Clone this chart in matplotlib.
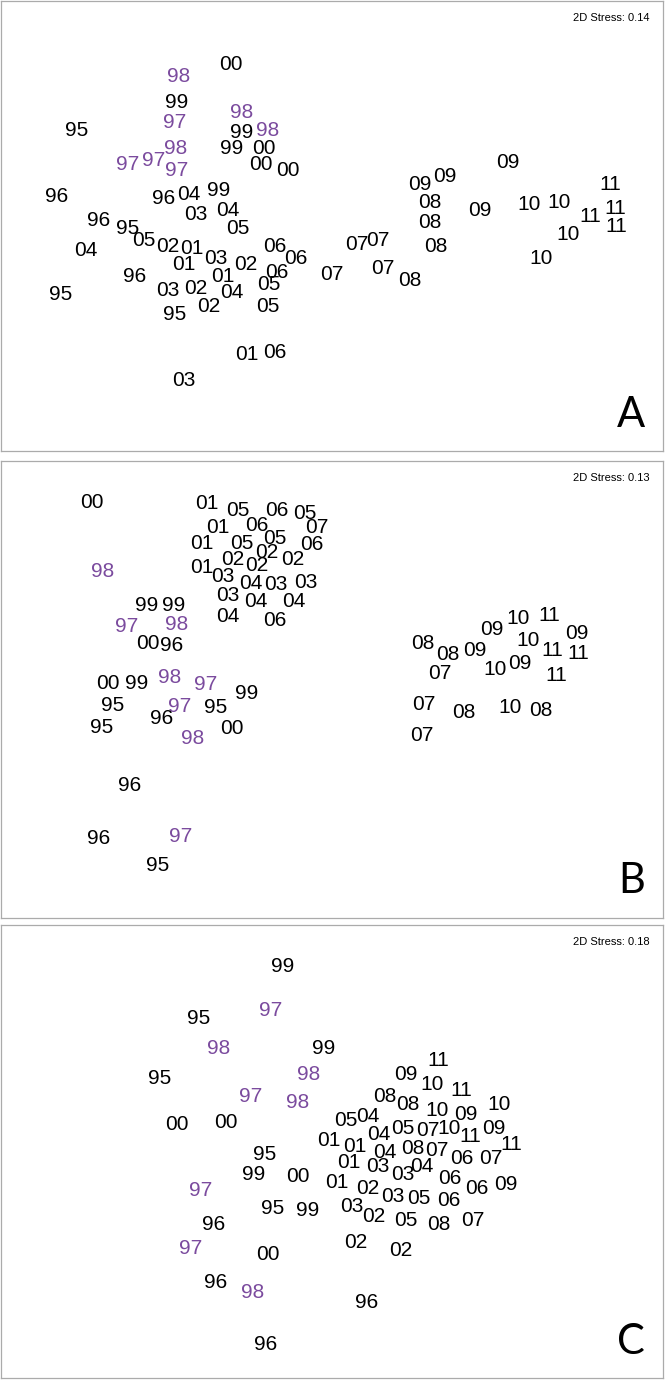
import matplotlib
matplotlib.use("Agg")
import matplotlib.pyplot as plt

# NMDS ordination of years, three panels (positions)
a_labels = ["98", "00", "99", "97", "98", "95", "99", "98", "98", "99", "00", "97", "97", "97", "00", "00",
            "96", "96", "04", "99", "03", "04", "96", "95", "05", "05", "02", "01", "04", "06", "06", "03",
            "01", "02", "96", "01", "06", "95", "03", "02", "04", "05", "02", "95", "05", "01", "06", "03",
            "09", "09", "09", "08", "09", "10", "10", "11", "11", "11", "11", "08", "10", "07", "07", "08",
            "10", "07", "07", "08"]
a_x = [179, 231, 177, 175, 242, 77, 242, 268, 176, 232, 264, 128, 154, 177, 261, 288,
       57, 164, 189, 219, 196, 228, 99, 128, 238, 144, 168, 192, 86, 275, 296, 216,
       184, 246, 135, 223, 277, 61, 168, 196, 232, 269, 209, 175, 268, 247, 275, 184,
       508, 420, 445, 430, 480, 529, 559, 610, 590, 615, 616, 430, 568, 357, 378, 436,
       541, 332, 383, 410]
a_y = [74, 63, 100, 120, 111, 129, 130, 129, 147, 147, 146, 163, 158, 168, 162, 168,
       194, 196, 192, 188, 213, 208, 219, 226, 226, 239, 244, 247, 249, 244, 257, 257,
       263, 263, 275, 275, 270, 292, 289, 286, 291, 283, 304, 312, 304, 352, 350, 379,
       161, 183, 174, 200, 209, 202, 200, 182, 215, 207, 225, 221, 232, 242, 239, 245,
       256, 272, 267, 278]

b_labels = ["00", "00", "00", "00", "01", "01", "01", "01", "05", "05", "05", "05", "06", "06", "06", "06",
            "07", "07", "07", "07", "02", "02", "02", "02", "03", "03", "03", "03", "04", "04", "04", "04",
            "98", "98", "98", "98", "99", "99", "99", "99", "97", "97", "97", "97", "96", "96", "96", "96",
            "95", "95", "95", "95", "10", "10", "10", "10", "11", "11", "11", "11", "09", "09", "09", "09",
            "08", "08", "08", "08"]
b_x = [92, 148, 108, 232, 207, 218, 202, 202, 238, 305, 242, 275, 277, 257, 312, 275,
       317, 440, 424, 422, 267, 233, 257, 293, 223, 276, 306, 228, 251, 256, 294, 228,
       103, 177, 170, 193, 147, 174, 137, 247, 127, 206, 180, 181, 172, 162, 130, 99,
       113, 216, 102, 158, 518, 528, 495, 510, 549, 552, 578, 556, 492, 577, 475, 520,
       423, 448, 464, 541]
b_y = [500, 641, 681, 726, 501, 525, 541, 565, 508, 511, 541, 536, 508, 523, 542, 618,
       525, 671, 702, 733, 550, 557, 563, 557, 574, 582, 580, 593, 581, 599, 599, 614,
       569, 622, 675, 736, 603, 603, 681, 691, 624, 682, 704, 834, 643, 716, 783, 836,
       703, 705, 725, 863, 616, 638, 667, 705, 613, 648, 651, 673, 627, 631, 648, 661,
       641, 652, 710, 708]

c_labels = ["99", "99", "99", "99", "97", "97", "97", "97", "95", "95", "95", "95", "98", "98", "98", "98",
            "00", "00", "00", "00", "96", "96", "96", "96", "01", "01", "01", "01", "05", "05", "05", "05",
            "11", "11", "11", "11", "09", "09", "09", "09", "10", "10", "10", "10", "08", "08", "08", "08",
            "04", "04", "04", "04", "07", "07", "07", "07", "06", "06", "06", "06", "03", "03", "03", "03",
            "02", "02", "02", "02"]
c_x = [283, 324, 254, 308, 271, 251, 201, 191, 199, 160, 265, 273, 219, 309, 298, 253,
       177, 226, 298, 268, 214, 216, 367, 266, 329, 337, 355, 349, 346, 403, 419, 406,
       438, 461, 470, 511, 406, 466, 494, 506, 432, 499, 437, 449, 385, 408, 413, 439,
       368, 379, 385, 422, 428, 437, 491, 473, 462, 450, 477, 449, 378, 403, 393, 352,
       368, 374, 356, 401]
c_y = [965, 1047, 1172, 1208, 1009, 1095, 1189, 1247, 1016, 1076, 1152, 1207, 1046, 1073, 1100, 1291,
       1123, 1121, 1174, 1253, 1223, 1280, 1301, 1343, 1138, 1180, 1145, 1161, 1118, 1127, 1196, 1219,
       1058, 1089, 1134, 1142, 1073, 1112, 1127, 1182, 1083, 1102, 1108, 1126, 1094, 1102, 1147, 1223,
       1114, 1133, 1150, 1165, 1129, 1149, 1157, 1218, 1157, 1177, 1186, 1198, 1164, 1173, 1194, 1204,
       1187, 1214, 1240, 1249]

stress = ["2D Stress: 0.14", "2D Stress: 0.13", "2D Stress: 0.18"]
panel_letters = ["A", "B", "C"]
highlight = ["97", "98"]

W, H = 667, 1381
fig = plt.figure(figsize=(W / 100, H / 100), dpi=100)

# panel boxes in pixels: (left, top, right, bottom)
boxes = [(1, 1, 663, 451), (1, 461, 663, 918), (1, 925, 663, 1378)]
panels = [(a_labels, a_x, a_y), (b_labels, b_x, b_y), (c_labels, c_x, c_y)]

for i, (labels, xs, ys) in enumerate(panels):
    l, t, r, b = boxes[i]
    ax = fig.add_axes([l / W, 1 - b / H, (r - l) / W, (b - t) / H])
    ax.set_xlim(l, r)
    ax.set_ylim(b, t)
    ax.set_xticks([])
    ax.set_yticks([])
    for s in ax.spines.values():
        s.set_color("#ABABAB")
        s.set_linewidth(0.9)

    for lab, x, y in zip(labels, xs, ys):
        col = "#7B4B9E" if lab in highlight else "black"
        ax.text(x, y + 2, lab, ha="center", va="center", fontsize=15,
                family="Liberation Sans", color=col)

    ax.text(0.98, 0.962, stress[i], transform=ax.transAxes, ha="right", va="center",
            fontsize=8, family="Liberation Sans")
    ax.text(0.952, 0.08, panel_letters[i], transform=ax.transAxes, ha="center", va="center",
            fontsize=30, family="Lato")

fig.savefig("out.png", dpi=100)
